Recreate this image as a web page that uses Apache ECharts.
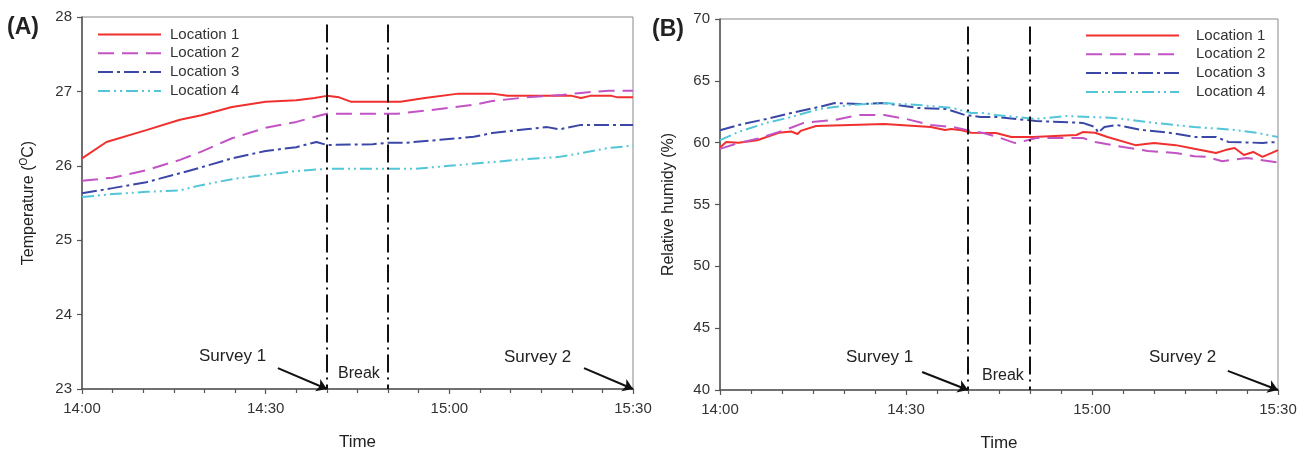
<!DOCTYPE html>
<html><head><meta charset="utf-8">
<script src="https://cdn.jsdelivr.net/npm/echarts@6/dist/echarts.min.js"></script>
<style>html,body{margin:0;padding:0;background:#fff}#c{width:1304px;height:450px}</style>
</head><body><div id="c"></div><script>
// ---- data (time in minutes after 14:00) ----
const locationNames = ['Location 1', 'Location 2', 'Location 3', 'Location 4'];
const xTickLabels = ['14:00', '14:30', '15:00', '15:30'];
const breakTimes = [40, 50];

// Panel A: temperature (°C)
const tempT1 = [0, 4, 10.5, 16, 19.5, 24.5, 30, 35, 38, 40, 42, 44, 50, 52, 56, 61.5, 67, 69.5, 80, 81.5, 83, 86.5, 87.5, 90];
const tempV1 = [26.10, 26.32, 26.48, 26.62, 26.68, 26.79, 26.86, 26.88, 26.91, 26.94, 26.92, 26.86, 26.86, 26.86, 26.91, 26.97, 26.97, 26.94, 26.94, 26.91, 26.94, 26.94, 26.92, 26.92];
const tempT2 = [0, 5, 10.5, 16, 19.5, 24.5, 30, 35, 39, 40, 50, 51.5, 56, 64, 67, 72.5, 78, 81.5, 86, 90];
const tempV2 = [25.80, 25.84, 25.94, 26.08, 26.19, 26.37, 26.51, 26.59, 26.68, 26.70, 26.70, 26.70, 26.74, 26.82, 26.87, 26.92, 26.95, 26.98, 27.01, 27.01];
const tempT3 = [0, 5, 10.5, 16, 19.5, 24.5, 30, 35, 38.3, 40, 47.5, 50, 53, 58.5, 64, 67, 72.5, 76, 78, 81.5, 90];
const tempV3 = [25.63, 25.70, 25.78, 25.90, 25.98, 26.10, 26.20, 26.25, 26.32, 26.28, 26.29, 26.31, 26.31, 26.35, 26.39, 26.44, 26.49, 26.52, 26.49, 26.55, 26.55];
const tempT4 = [0, 5, 10.5, 16, 19.5, 24.5, 30, 35, 40, 50, 54.5, 60, 67, 72.5, 78, 81.5, 86, 90];
const tempV4 = [25.58, 25.62, 25.65, 25.67, 25.74, 25.82, 25.88, 25.93, 25.96, 25.96, 25.96, 26.00, 26.05, 26.09, 26.12, 26.17, 26.24, 26.27];

// Panel B: relative humidity (%)
const rhT1 = [0, 1, 3, 6, 9.5, 11.5, 12.5, 13, 15.5, 21, 26.5, 29, 34, 36.3, 37.3, 39, 40.5, 44.5, 47, 50.5, 57.5, 58.5, 60.5, 62.5, 67, 70, 73.5, 76.5, 80, 81.5, 83, 84.5, 86, 87.5, 89, 90];
const rhV1 = [59.6, 60.05, 60.0, 60.2, 60.8, 60.9, 60.7, 60.95, 61.35, 61.43, 61.5, 61.43, 61.27, 61.03, 61.1, 61.0, 60.8, 60.78, 60.46, 60.46, 60.62, 60.86, 60.8, 60.46, 59.8, 59.98, 59.8, 59.5, 59.17, 59.4, 59.57, 59.0, 59.25, 58.85, 59.17, 59.4];
const rhT2 = [0, 3, 6.5, 10.5, 13.5, 18.5, 22.5, 26.5, 30, 34, 37.5, 40.5, 42.5, 44.5, 47.5, 48.5, 51, 58.5, 60.5, 65, 69, 73.5, 76.5, 78.5, 81, 85, 90];
const rhV2 = [59.5, 59.98, 60.38, 61.03, 61.6, 61.84, 62.24, 62.24, 61.92, 61.43, 61.27, 60.95, 60.78, 60.5, 59.98, 60.06, 60.38, 60.38, 60.06, 59.65, 59.33, 59.17, 58.9, 58.85, 58.5, 58.76, 58.4];
const rhT3 = [0, 3, 7.5, 11.5, 16, 18.5, 22.5, 26.5, 32, 36.5, 39.5, 42, 44.5, 51, 58.5, 60.5, 61, 62, 64, 68, 72.5, 76.5, 80, 82, 87.5, 90];
const rhV3 = [61.0, 61.43, 61.92, 62.4, 62.89, 63.2, 63.13, 63.2, 62.8, 62.72, 62.24, 62.08, 62.08, 61.75, 61.6, 61.27, 60.8, 61.27, 61.43, 61.03, 60.8, 60.46, 60.46, 60.06, 59.98, 60.06];
const rhT4 = [0, 3, 7.5, 11.5, 16, 21, 26.5, 32, 37.5, 40.5, 42.5, 44.5, 51, 56, 63.5, 70, 76.5, 83, 86.5, 90];
const rhV4 = [60.2, 60.87, 61.6, 62.08, 62.72, 63.05, 63.2, 63.05, 62.8, 62.4, 62.4, 62.24, 61.92, 62.16, 62.0, 61.6, 61.27, 61.03, 60.8, 60.46];

// Break-line vertical extent [bottom, top] per panel
const tempBreakRange = [23, 27.9];
const rhBreakRange = [40, 69.4];

// Survey arrows: [startTime, startValue, endTime, endValue]
const tempArrows = [[32, 23.28, 40, 23], [82, 23.28, 90, 23]];
const rhArrows = [[32.6, 41.46, 40, 40], [81.9, 41.55, 90, 40]];

// ---- styles ----
const colors = ['#f0302e', '#c253c4', '#3a47a6', '#52c6d8'];
const dashes = ['solid', [16, 8], [15, 4, 3, 4], [12, 4, 2, 4, 2, 4]];
const FONT = 'Liberation Sans, Arial, sans-serif';
const axisColor = '#555';

function zip(t, v) { return t.map((x, i) => [x, v[i]]); }

function makeX(idx) {
  return {
    type: 'value', gridIndex: idx, min: 0, max: 90, interval: 30,
    name: 'Time', nameLocation: 'middle', nameGap: 45,
    nameTextStyle: { fontFamily: FONT, fontSize: 17, color: '#222' },
    axisLine: { show: true, lineStyle: { color: axisColor, width: 1.5 } },
    axisTick: { show: true, length: 5, lineStyle: { color: axisColor, width: 1.2 } },
    minorTick: { show: true, splitNumber: 6, length: 4, lineStyle: { color: axisColor, width: 1.2 } },
    splitLine: { show: false },
    axisLabel: { fontFamily: FONT, fontSize: 15, color: '#333', margin: 12,
      formatter: v => xTickLabels[Math.round(v / 30)] }
  };
}
function makeY(idx, min, max, interval, name, gap) {
  return {
    type: 'value', gridIndex: idx, min, max, interval,
    name, nameLocation: 'middle', nameGap: gap,
    nameTextStyle: { fontFamily: FONT, fontSize: 16, color: '#222',
      rich: { sup: { fontFamily: FONT, fontSize: 10, color: '#222', verticalAlign: 'top', padding: [0, 0, 9, 0] } } },
    axisLine: { show: true, lineStyle: { color: axisColor, width: 1.5 } },
    axisTick: { show: true, length: 5, lineStyle: { color: axisColor, width: 1.2 } },
    splitLine: { show: false },
    axisLabel: { fontFamily: FONT, fontSize: 15, color: '#333', margin: 10 }
  };
}

function annotationMarkLine(arrows, range) {
  const data = breakTimes.map(t => [
    { coord: [t, range[1]], symbol: 'none', lineStyle: { color: '#111', width: 2, type: [18, 5, 2, 5] } },
    { coord: [t, range[0]], symbol: 'none' }
  ]);
  arrows.forEach(a => {
    data.push([
      { coord: [a[0], a[1]], symbol: 'none', lineStyle: { color: '#111', width: 2, type: 'solid' } },
      { coord: [a[2], a[3]], symbol: 'arrow', symbolSize: 10 }
    ]);
  });
  return { silent: true, animation: false, symbol: 'none', symbolSize: 10,
    label: { show: false }, emphasis: { disabled: true }, data };
}

const tempData = [zip(tempT1, tempV1), zip(tempT2, tempV2), zip(tempT3, tempV3), zip(tempT4, tempV4)];
const rhData = [zip(rhT1, rhV1), zip(rhT2, rhV2), zip(rhT3, rhV3), zip(rhT4, rhV4)];

const series = [];
[tempData, rhData].forEach((set, g) => {
  set.forEach((d, i) => {
    const s = {
      type: 'line', name: locationNames[i], xAxisIndex: g, yAxisIndex: g,
      data: d, symbol: 'none', showSymbol: false, animation: false,
      lineStyle: { color: colors[i], width: 2, type: dashes[i] },
      itemStyle: { color: colors[i] }, z: 3
    };
    if (i === 0) s.markLine = g === 0 ? annotationMarkLine(tempArrows, tempBreakRange) : annotationMarkLine(rhArrows, rhBreakRange);
    series.push(s);
  });
});

function legend(left, top, w, pad) {
  return {
    orient: 'vertical', left, top, itemWidth: w, itemHeight: 14, itemGap: 3.8,
    data: locationNames, selectedMode: false,
    itemStyle: { opacity: 0, borderWidth: 0 },
    textStyle: { fontFamily: FONT, fontSize: 15, color: '#333', padding: [0, 0, 0, pad] }
  };
}

function txt(x, y, text, size, weight) {
  return { type: 'text', x, y, silent: true,
    style: { text, font: (weight || 'normal') + ' ' + size + 'px ' + FONT, fill: '#222', verticalAlign: 'middle' } };
}

const option = {
  backgroundColor: '#fff',
  animation: false,
  grid: [
    { left: 82, right: 671, top: 17, bottom: 61, show: true, borderColor: '#888', borderWidth: 1, outerBoundsMode: 'none', containLabel: false },
    { left: 720, right: 26, top: 19, bottom: 60, show: true, borderColor: '#888', borderWidth: 1, outerBoundsMode: 'none', containLabel: false }
  ],
  xAxis: [makeX(0), makeX(1)],
  yAxis: [
    makeY(0, 23, 28, 1, 'Temperature ({sup|O}C)', 44),
    makeY(1, 40, 70, 5, 'Relative humidy (%)', 43)
  ],
  legend: [legend(92, 22, 63, 4), legend(1080, 23, 93, 12)],
  graphic: [
    txt(7, 28, '(A)', 23, 'bold'),
    txt(652, 30, '(B)', 23, 'bold'),
    txt(199, 356, 'Survey 1', 17),
    txt(338, 374, 'Break', 16),
    txt(504, 357, 'Survey 2', 17),
    txt(846, 357, 'Survey 1', 17),
    txt(982, 376, 'Break', 16),
    txt(1149, 357, 'Survey 2', 17)
  ],
  series
};

echarts.init(document.getElementById('c'), null, { renderer: 'canvas' }).setOption(option);
</script></body></html>
